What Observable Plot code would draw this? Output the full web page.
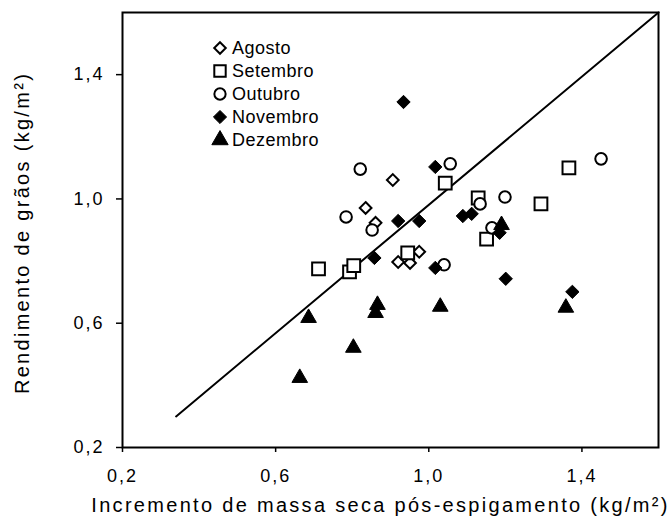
<!DOCTYPE html>
<html>
<head>
<meta charset="utf-8">
<script src="https://cdn.jsdelivr.net/npm/d3@7"></script>
<script src="https://cdn.jsdelivr.net/npm/@observablehq/plot@0.6"></script>
<style>
  body { margin: 0; background: #fff; }
  #wrap { position: relative; width: 669px; height: 521px; font-family: "Liberation Sans", Arial, sans-serif; }
  #legend { position: absolute; left: 0; top: 0; pointer-events: none; }
</style>
</head>
<body>
<div id="wrap"></div>
<script>
// ---- data ----
const months = ["Agosto", "Setembro", "Outubro", "Novembro", "Dezembro"];

const agostoX = [0.906, 0.835, 0.861, 0.920, 0.975, 0.951];
const agostoY = [1.061, 0.971, 0.923, 0.797, 0.830, 0.794];

const setembroX = [0.712, 0.793, 0.804, 0.945, 1.043, 1.366, 1.129, 1.293, 1.151];
const setembroY = [0.775, 0.765, 0.785, 0.826, 1.051, 1.100, 1.003, 0.984, 0.871];

const outubroX = [0.821, 0.784, 0.852, 1.056, 1.134, 1.199, 1.165, 1.040, 1.450];
const outubroY = [1.096, 0.942, 0.900, 1.113, 0.984, 1.006, 0.907, 0.788, 1.129];

const novembroX = [0.934, 1.017, 0.920, 0.975, 0.858, 1.089, 1.112, 1.185, 1.017, 1.201, 1.375];
const novembroY = [1.312, 1.103, 0.929, 0.929, 0.810, 0.945, 0.952, 0.891, 0.778, 0.743, 0.701];

const dezembroX = [0.663, 0.686, 0.803, 0.866, 0.861, 1.030, 1.358, 1.190];
const dezembroY = [0.424, 0.617, 0.521, 0.659, 0.633, 0.653, 0.650, 0.916];

const lineX = [0.34, 1.6];
const lineY = [0.30, 1.6];

const xTicks = [0.2, 0.6, 1.0, 1.4];
const yTicks = [0.2, 0.6, 1.0, 1.4];
const xTitle = "Incremento de massa seca pós-espigamento (kg/m²)";
const yTitle = "Rendimento de grãos (kg/m²)";

// ---- build tables ----
const toPts = (xs, ys) => xs.map((x, i) => ({x, y: ys[i]}));
const ago = toPts(agostoX, agostoY);
const set = toPts(setembroX, setembroY);
const out = toPts(outubroX, outubroY);
const nov = toPts(novembroX, novembroY);
const dez = toPts(dezembroX, dezembroY);
const line = toPts(lineX, lineY);
const fmt = d => d.toFixed(1).replace(".", ",");

const chart = Plot.plot({
  width: 669,
  height: 521,
  marginLeft: 122,
  marginRight: 11,
  marginTop: 12,
  marginBottom: 74,
  style: {fontFamily: "Liberation Sans, Arial, sans-serif", background: "#fff", color: "#000"},
  x: {domain: [0.2, 1.6]},
  y: {domain: [0.2, 1.6]},
  marks: [
    Plot.frame({stroke: "#000", strokeWidth: 2}),
    Plot.axisX({ticks: xTicks, tickFormat: fmt, tickSize: 5, tickPadding: 17, fontSize: 18, label: null, stroke: "#000", strokeWidth: 1.5}),
    Plot.axisY({ticks: yTicks, tickFormat: fmt, tickSize: 6, tickPadding: 12, fontSize: 18, label: null, stroke: "#000", strokeWidth: 1.5}),
    Plot.line(line, {x: "x", y: "y", stroke: "#000", strokeWidth: 2}),
    Plot.dot(ago, {x: "x", y: "y", symbol: "diamond2", r: 5.3, fill: "#fff", stroke: "#000", strokeWidth: 2}),
    Plot.dot(set, {x: "x", y: "y", symbol: "square", r: 7.2, fill: "#fff", stroke: "#000", strokeWidth: 2}),
    Plot.dot(out, {x: "x", y: "y", symbol: "circle", r: 5.8, fill: "#fff", stroke: "#000", strokeWidth: 2}),
    Plot.dot(nov, {x: "x", y: "y", symbol: "diamond2", r: 6, fill: "#000", stroke: "#000", strokeWidth: 1}),
    Plot.dot(dez, {x: "x", y: "y", symbol: "triangle", r: 5.8, fill: "#000", stroke: "#000", strokeWidth: 1}),
    Plot.text([xTitle], {text: d => d, frameAnchor: "bottom", dx: -10, dy: 64, fontSize: 20, fill: "#000"}),
    Plot.text([yTitle], {text: d => d, frameAnchor: "left", textAnchor: "middle", rotate: -90, dx: -100, dy: 3, fontSize: 20, fill: "#000"})
  ]
});

// letter spacing for the wide lettering of the reference
d3.select(chart).selectAll("g[aria-label='x-axis tick label'] text, g[aria-label='y-axis tick label'] text")
  .style("letter-spacing", "2px");
d3.select(chart).selectAll("text").filter(function() {
  const t = this.textContent; return t === xTitle || t === yTitle;
}).style("letter-spacing", "2.3px");

const wrap = document.getElementById("wrap");
wrap.appendChild(chart);

// ---- legend overlay ----
const symbolsFor = [d3.symbolDiamond2, d3.symbolSquare, d3.symbolCircle, d3.symbolDiamond2, d3.symbolTriangle];
const filled = [false, false, false, true, true];
const sizes = [85, 130, 100, 110, 115];
const lg = d3.select(wrap).append("svg")
  .attr("id", "legend").attr("width", 669).attr("height", 521);
const rows = lg.selectAll("g").data(months).join("g")
  .attr("transform", (d, i) => `translate(220,${48 + i * 23})`);
rows.append("path")
  .attr("d", (d, i) => d3.symbol(symbolsFor[i], sizes[i])())
  .attr("fill", (d, i) => filled[i] ? "#000" : "#fff")
  .attr("stroke", "#000")
  .attr("stroke-width", (d, i) => filled[i] ? 1 : 2);
rows.append("text")
  .attr("x", 12).attr("dy", "0.35em")
  .attr("font-size", 18)
  .style("letter-spacing", "0.5px")
  .attr("font-family", "Liberation Sans, Arial, sans-serif")
  .text(d => d);
</script>
</body>
</html>
